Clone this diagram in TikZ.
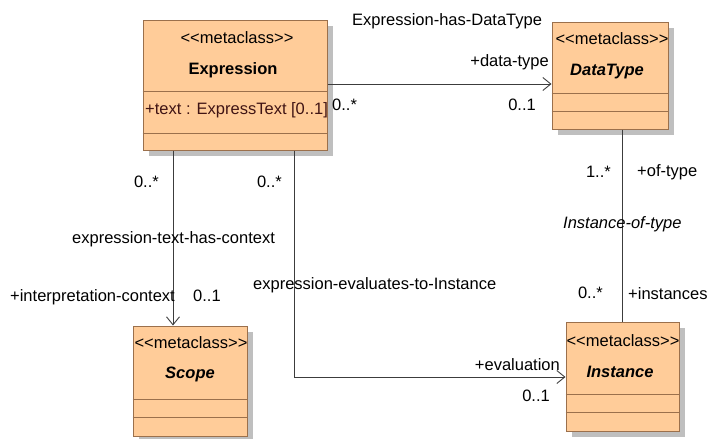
\documentclass[tikz,border=0pt]{standalone}
\usepackage{fontspec}
\setmainfont{Liberation Sans}
\usetikzlibrary{arrows.meta,shadows}
\definecolor{boxfill}{RGB}{255,204,153}
\definecolor{boxline}{RGB}{155,112,76}
\definecolor{attrtext}{RGB}{64,20,20}
\definecolor{conn}{RGB}{60,60,60}
\begin{document}
\begin{tikzpicture}[x=1pt,y=-1pt,
  every node/.style={font=\fontsize{16.5}{19}\selectfont},
  umlbox/.style={rectangle,draw=boxline,line width=1pt,fill=boxfill,inner sep=0pt,
    drop shadow={shadow xshift=6pt,shadow yshift=-6pt,fill=black!25,opacity=1}},
  divider/.style={draw=boxline,line width=1pt},
  lbl/.style={inner sep=0pt},
  assoc/.style={draw=conn,line width=0.9pt},
  nav/.style={assoc,-{Straight Barb[length=8pt,width=13pt,line width=0.9pt]}}]
\useasboundingbox (0,0) rectangle (710,439);

% Boxes
\node[umlbox,minimum width=184pt,minimum height=130pt] (expr) at (235,85) {};
\node[umlbox,minimum width=116pt,minimum height=107pt] (dtype) at (610,75.5) {};
\node[umlbox,minimum width=113pt,minimum height=109pt] (inst) at (622.5,376.5) {};
\node[umlbox,minimum width=114pt,minimum height=110pt] (scope) at (190,381) {};

% Dividers
\draw[divider] (expr.west |- 0,91) -- (expr.east |- 0,91);
\draw[divider] (expr.west |- 0,133) -- (expr.east |- 0,133);
\draw[divider] (dtype.west |- 0,93) -- (dtype.east |- 0,93);
\draw[divider] (dtype.west |- 0,111) -- (dtype.east |- 0,111);
\draw[divider] (inst.west |- 0,394) -- (inst.east |- 0,394);
\draw[divider] (inst.west |- 0,412) -- (inst.east |- 0,412);
\draw[divider] (scope.west |- 0,399) -- (scope.east |- 0,399);
\draw[divider] (scope.west |- 0,417) -- (scope.east |- 0,417);

% Box texts
\node[lbl,anchor=base] (exprst) at (237,43) {<{}<metaclass>{}>};
\node[lbl,anchor=base,font=\fontsize{16.5}{19}\selectfont\bfseries] (exprname) at (233,74) {Expression};
\node[lbl,anchor=base west,text=attrtext] (exprattr) at (145,114) {+text : ExpressText [0..1]};
\node[lbl,anchor=base] (dtypest) at (612,45) {<{}<metaclass>{}>};
\node[lbl,anchor=base,font=\fontsize{16.5}{19}\selectfont\bfseries\itshape] (dtypename) at (607,75) {DataType};
\node[lbl,anchor=base] (instst) at (623,346) {<{}<metaclass>{}>};
\node[lbl,anchor=base,font=\fontsize{16.5}{19}\selectfont\bfseries\itshape] (instname) at (620,377) {Instance};
\node[lbl,anchor=base] (scopest) at (191,348) {<{}<metaclass>{}>};
\node[lbl,anchor=base,font=\fontsize{16.5}{19}\selectfont\bfseries\itshape] (scopename) at (190,378) {Scope};

% Connectors
\draw[nav] (expr.east |- 0,84) -- (dtype.west |- 0,84);
\draw[nav] (expr.south -| 173,0) -- (scope.north -| 173,0);
\draw[nav] (expr.south -| 294,0) |- (inst.west |- 0,377);
\draw[assoc] (dtype.south -| 622,0) -- (inst.north -| 622,0);

% Association labels
\node[lbl,anchor=base west] (a1) at (352,25) {Expression-has-DataType};
\node[lbl,anchor=base east] (a1r) at (549,66) {+data-type};
\node[lbl,anchor=base west] (a1m1) at (332,110) {0..*};
\node[lbl,anchor=base east] (a1m2) at (536,110) {0..1};

\node[lbl,anchor=base east] (a2m1) at (159,187) {0..*};
\node[lbl,anchor=base west] (a2) at (72,243) {expression-text-has-context};
\node[lbl,anchor=base west] (a2r) at (10,301) {+interpretation-context};
\node[lbl,anchor=base west] (a2m2) at (193,301) {0..1};

\node[lbl,anchor=base east] (a3m1) at (282,187) {0..*};
\node[lbl,anchor=base west] (a3) at (253,289) {expression-evaluates-to-Instance};
\node[lbl,anchor=base east] (a3r) at (560,370) {+evaluation};
\node[lbl,anchor=base east] (a3m2) at (550,401) {0..1};

\node[lbl,anchor=base east] (a4m1) at (611,177) {1..*};
\node[lbl,anchor=base west] (a4r1) at (637,176) {+of-type};
\node[lbl,anchor=base west,font=\fontsize{16.5}{19}\selectfont\itshape] (a4) at (563,228) {Instance-of-type};
\node[lbl,anchor=base east] (a4m2) at (603,298) {0..*};
\node[lbl,anchor=base west] (a4r2) at (628,299) {+instances};
\end{tikzpicture}
\end{document}
